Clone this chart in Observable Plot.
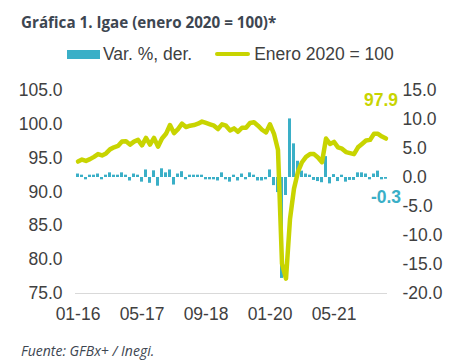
<!DOCTYPE html>
<html>
<head>
<meta charset="utf-8">
<script src="https://cdn.jsdelivr.net/npm/d3@7"></script>
<script src="https://cdn.jsdelivr.net/npm/@observablehq/plot@0.6"></script>
<style>
  body { margin: 0; background: #fff; width: 451px; height: 360px; position: relative; overflow: hidden;
         font-family: "Liberation Sans", Arial, sans-serif; }
  #title { position: absolute; left: 21px; top: 12px; font-family: "Open Sans", sans-serif; font-weight: 700;
           font-size: 15.2px; color: #3d4651; white-space: nowrap; }
  #legend { position: absolute; left: 67px; top: 43px; height: 22px; font-size: 17.5px; color: #404040;
            display: flex; align-items: center; white-space: nowrap; }
  .sw1 { width: 33px; height: 9px; background: #3aafc7; margin-right: 3px; }
  .sw2 { width: 35px; height: 4px; background: #c8d400; margin-left: 23px; margin-right: 4px; border-radius: 2px; }
  #chart { position: absolute; left: 0; top: 70px; }
  #caption { position: absolute; left: 21px; top: 341px; font-family: "Open Sans", sans-serif; font-style: italic;
             font-size: 14px; color: #3d4651; white-space: nowrap; }
</style>
</head>
<body>
<div id="title">Gráfica 1. Igae (enero 2020 = 100)*</div>
<div id="legend"><div class="sw1"></div><span>Var. %, der.</span><div class="sw2"></div><span>Enero 2020 = 100</span></div>
<div id="chart"></div>
<div id="caption">Fuente: GFBx+ / Inegi.</div>
<script>
// Months Jan 2016 .. Jun 2022
const months = d3.utcMonth.range(new Date(Date.UTC(2016, 0, 1)), new Date(Date.UTC(2022, 6, 1))).map(d3.utcFormat("%m-%y"));

// Index, Jan 2020 = 100 (left axis)
const indexValues = [
  94.5, 94.8, 94.6, 94.85, 95.2, 95.6, 95.4, 95.7, 96.3, 96.6, 96.8, 97.45,
  97.5, 97.0, 97.45, 97.7, 96.9, 98.0, 97.0, 98.0, 96.7, 97.9, 98.6, 99.9,
  98.7, 99.3, 100.1, 99.6, 99.8, 99.9, 100.1, 100.4, 100.2, 100.0, 99.8, 99.3,
  100.0, 99.8, 99.1, 99.4, 98.9, 99.5, 99.5, 100.2, 100.3, 99.8, 99.2, 98.8,
  100.0, 98.6, 96.2, 79.4, 77.2, 86.0, 90.5, 93.0, 94.4, 95.2, 95.6, 95.6,
  95.1, 94.4, 97.9, 97.1, 97.4, 96.6, 96.4, 95.9, 95.75, 95.6, 96.6, 97.1,
  97.6, 97.7, 98.6, 98.6, 98.2, 97.9
];

// Monthly % change (right axis)
const varValues = [
  0.6, 0.4, -0.4, 0.4, 0.4, 0.6, -0.4, 0.4, 0.8, 0.4, 0.4, 0.8,
  0.4, -0.6, 0.6, 0.4, -0.8, 1.3, -1.0, 1.15, -1.5, 1.5, 0.8, 1.3,
  -1.3, 0.6, 1.0, -0.4, 0.4, 0.4, 0.4, 0.4, -0.4, -0.4, -0.4, -0.6,
  0.8, -0.4, -0.8, 0.4, -0.6, 0.6, -0.4, 0.8, 0.4, -0.6, -0.6, -0.4,
  1.3, -1.4, -2.6, -17.4, -3.1, 10.1, 5.8, 2.8, 1.1, 0.6, 0.4, -0.5,
  -0.7, -0.9, 3.6, -1.1, 0.5, -0.7, 0.4, -0.8, -0.5, -0.5, 0.8, 0.8,
  0.6, -0.4, 0.6, 1.1, -0.4, -0.3
];

const xTickLabels = ["01-16", "05-17", "09-18", "01-20", "05-21"];
const leftTicks = [75, 80, 85, 90, 95, 100, 105];
const rightTicks = [-20, -15, -10, -5, 0, 5, 10, 15];
const lastIndexLabel = "97.9";
const lastVarLabel = "-0.3";

const GREEN = "#c8d400";
const TEAL = "#3aafc7";

// map right-axis values into left-axis units
const L0 = 75, L1 = 105, R0 = -20, R1 = 15;
const toLeft = v => L0 + (v - R0) * (L1 - L0) / (R1 - R0);

const data = months.map((m, i) => ({m, idx: indexValues[i], v: varValues[i]}));
const last = data[data.length - 1];

const chart = Plot.plot({
  width: 451,
  height: 255,
  marginTop: 20,
  marginBottom: 32,
  marginLeft: 75,
  marginRight: 64,
  style: {fontFamily: "'Liberation Sans', Arial, sans-serif", fontSize: "17.5px", color: "#404040", background: "transparent"},
  x: {type: "band", domain: months, paddingInner: 0.25, paddingOuter: 0, align: 0.5},
  y: {domain: [L0, L1]},
  marks: [
    Plot.barY(data, {x: "m", y1: () => toLeft(0), y2: d => toLeft(d.v), fill: TEAL}),
    Plot.ruleY([L0], {stroke: "#d9d9d9", strokeWidth: 1}),
    Plot.line(data, {x: "m", y: "idx", stroke: GREEN, strokeWidth: 4.5, strokeLinejoin: "round", strokeLinecap: "round"}),
    Plot.axisX({ticks: xTickLabels, tickSize: 0, tickPadding: 14, label: null}),
    Plot.axisY({ticks: leftTicks, tickFormat: d => d.toFixed(1), tickSize: 0, tickPadding: 13, label: null}),
    Plot.axisY({anchor: "right", ticks: rightTicks.map(toLeft), tickSize: 0, tickPadding: 15, label: null,
      textAnchor: "start",
      tickFormat: d => { const t = rightTicks.find(r => Math.abs(toLeft(r) - d) < 1e-6); return t.toFixed(1); }}),
    Plot.text([last], {x: "m", y: "idx", text: () => lastIndexLabel, fill: GREEN, fontWeight: "bold",
      fontSize: 17.5, dx: -5, dy: -38}),
    Plot.text([last], {x: "m", y: d => toLeft(d.v), text: () => lastVarLabel, fill: TEAL, fontWeight: "bold",
      fontSize: 17.5, dx: 0, dy: 18})
  ]
});
document.getElementById("chart").appendChild(chart);
</script>
</body>
</html>
